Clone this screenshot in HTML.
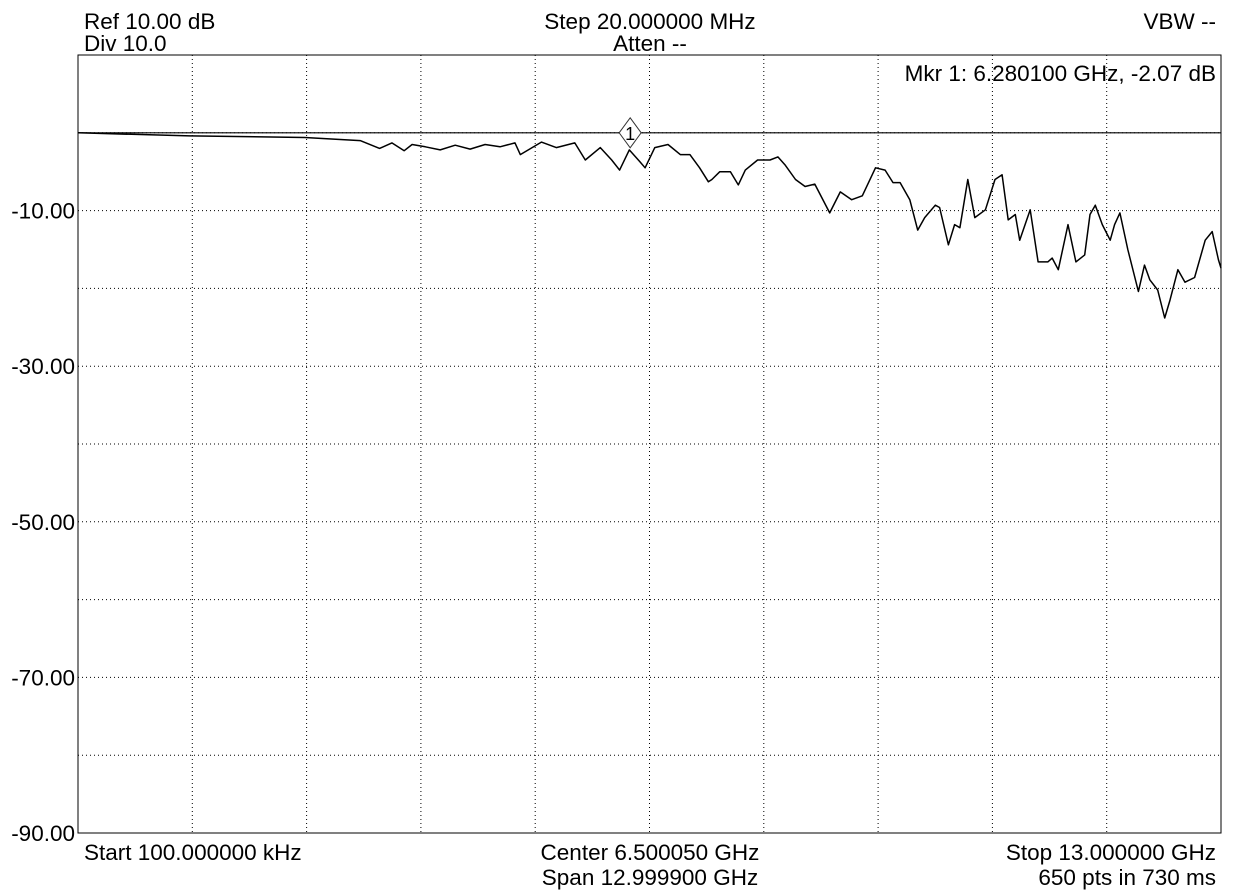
<!DOCTYPE html>
<html><head><meta charset="utf-8"><style>
body{margin:0;background:#fff;width:1242px;height:890px;overflow:hidden}
svg text{font-family:"Liberation Sans",sans-serif;font-size:22.5px;fill:#000}
</style></head><body>
<svg id="chart" width="1242" height="890" xmlns="http://www.w3.org/2000/svg">
<text x="84" y="29">Ref 10.00 dB</text>
<text x="84" y="51">Div 10.0</text>
<text x="650" y="29" text-anchor="middle">Step 20.000000 MHz</text>
<text x="650" y="51" text-anchor="middle">Atten --</text>
<text x="1216" y="29" text-anchor="end">VBW --</text>
<text x="84" y="860">Start 100.000000 kHz</text>
<text x="650" y="860" text-anchor="middle">Center 6.500050 GHz</text>
<text x="650" y="885" text-anchor="middle">Span 12.999900 GHz</text>
<text x="1216" y="860" text-anchor="end">Stop 13.000000 GHz</text>
<text x="1216" y="885" text-anchor="end">650 pts in 730 ms</text>
<g id="grid"></g><g id="ylabels"></g><g id="trace"></g>
<text x="1216" y="81" text-anchor="end">Mkr 1: 6.280100 GHz, -2.07 dB</text>
</svg>
<script>
const freqs=[0,1.27,2.58,3.21,3.43,3.57,3.71,3.80,3.95,4.12,4.29,4.46,4.63,4.80,4.97,5.03,5.27,5.44,5.65,5.77,5.94,6.07,6.16,6.27,6.39,6.45,6.56,6.71,6.85,6.96,7.07,7.17,7.21,7.30,7.42,7.51,7.59,7.73,7.87,7.96,8.04,8.16,8.27,8.38,8.55,8.67,8.80,8.92,9.07,9.18,9.27,9.35,9.46,9.55,9.63,9.75,9.80,9.90,9.97,10.03,10.12,10.20,10.32,10.43,10.51,10.58,10.66,10.71,10.83,10.92,11.03,11.08,11.15,11.26,11.35,11.45,11.51,11.57,11.65,11.74,11.79,11.85,11.94,12.06,12.13,12.19,12.28,12.36,12.42,12.51,12.59,12.70,12.82,12.90,12.97,13.0];
const levels=[0,-0.4,-0.6,-1.0,-2.0,-1.3,-2.3,-1.5,-1.8,-2.2,-1.6,-2.1,-1.5,-1.8,-1.3,-2.8,-1.2,-1.9,-1.3,-3.5,-1.9,-3.5,-4.8,-2.2,-3.7,-4.5,-1.9,-1.5,-2.8,-2.8,-4.5,-6.3,-6.0,-5.0,-5.0,-6.7,-4.8,-3.5,-3.5,-3.1,-4.1,-6.0,-6.9,-6.6,-10.3,-7.6,-8.6,-8.1,-4.5,-4.8,-6.4,-6.4,-8.6,-12.5,-10.9,-9.3,-9.6,-14.4,-11.8,-12.2,-6.0,-10.9,-9.9,-6.0,-5.4,-11.2,-10.5,-13.8,-9.9,-16.6,-16.6,-16.1,-17.6,-11.8,-16.6,-15.7,-10.5,-9.3,-11.8,-13.8,-11.8,-10.3,-15.0,-20.4,-17.0,-18.9,-20.2,-23.8,-21.5,-17.6,-19.2,-18.6,-13.8,-12.7,-16.3,-17.4];
const yTickLabels=["-10.00","-30.00","-50.00","-70.00","-90.00"];
const yTickValues=[-10,-30,-50,-70,-90];
const markerFreq=6.2801, markerLevel=0;
const L=78,T=55,R=1221,B=833,fMin=0,fMax=13,dTop=10,dBot=-90;
const X=f=>L+(f-fMin)/(fMax-fMin)*(R-L);
const Y=d=>T+(dTop-d)/(dTop-dBot)*(B-T);
const NS="http://www.w3.org/2000/svg";
function mk(tag,attrs,parent){const e=document.createElementNS(NS,tag);for(const k in attrs)e.setAttribute(k,attrs[k]);parent.appendChild(e);return e;}
const g=document.getElementById('grid');
for(let i=1;i<10;i++){
 const x=L+i*(R-L)/10;
 const v=mk('line',{x1:x,y1:T,x2:x,y2:B,stroke:'#000','stroke-width':1,'stroke-dasharray':'1,3'},g);
 
 
 const y=T+i*(B-T)/10;
 const h=mk('line',{x1:L,y1:y,x2:R,y2:y,stroke:'#000','stroke-width':1,'stroke-dasharray':'1,3'},g);
 
 
}
const fr=mk('rect',{x:L,y:T,width:R-L,height:B-T,fill:'none',stroke:'#000','stroke-width':1},g);


const yl=document.getElementById('ylabels');
yTickValues.forEach((v,i)=>{const t=mk('text',{x:75,y:Y(v)+8,'text-anchor':'end'},yl);t.textContent=yTickLabels[i];
 
 });
const tr=document.getElementById('trace');
const ml=mk('line',{x1:L,y1:Y(markerLevel),x2:R,y2:Y(markerLevel),stroke:'#000','stroke-width':1.2},tr);


const p=mk('polyline',{points:freqs.map((f,i)=>X(f).toFixed(1)+','+Y(levels[i]).toFixed(1)).join(' '),fill:'none',stroke:'#000','stroke-width':1.5,'stroke-linejoin':'round'},tr);


const mx=X(markerFreq),my=Y(markerLevel);
const d=mk('polygon',{points:`${mx},${my-15} ${mx+11},${my} ${mx},${my+15} ${mx-11},${my}`,fill:'#fff',stroke:'#333','stroke-width':1},tr);


const mt=mk('text',{x:mx,y:my+7,'text-anchor':'middle',style:'font-size:18px'},tr);mt.textContent='1';


</script>
</body></html>
